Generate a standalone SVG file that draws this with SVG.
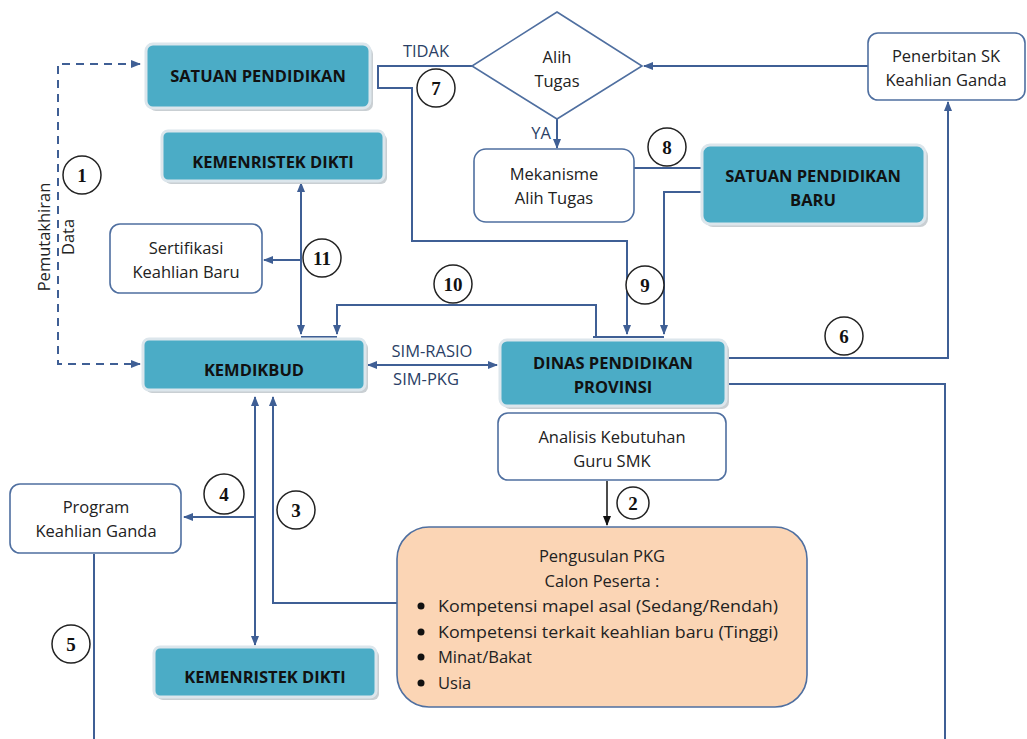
<svg xmlns="http://www.w3.org/2000/svg" width="1027" height="739" viewBox="0 0 1027 739">
<defs>
<style>
.teal{fill:#4BACC6;stroke:#DCE6EC;stroke-width:3}
.sh{fill:#C9CFD3}
.wb{fill:#fff;stroke:#4F6FA0;stroke-width:1.6}
.tb{font-family:"Open Sans","Liberation Sans",sans-serif;font-weight:bold;font-size:16.5px;fill:#111;text-anchor:middle}
.t{font-family:"Open Sans","Liberation Sans",sans-serif;font-size:16.5px;fill:#222;text-anchor:middle}
.tl{font-family:"Open Sans","Liberation Sans",sans-serif;font-size:16.5px;fill:#222}
.lbl{font-family:"Open Sans","Liberation Sans",sans-serif;font-size:16.5px;fill:#2B3F66;text-anchor:middle}
.ln{fill:none;stroke:#3F5F95;stroke-width:2}
.dash{fill:none;stroke:#3F5F95;stroke-width:2;stroke-dasharray:8,6}
.c{fill:#fff;stroke:#222;stroke-width:1.5}
.n{font-family:"Liberation Serif",serif;font-weight:bold;font-size:19px;fill:#111;text-anchor:middle}
</style>
<marker id="a" viewBox="0 0 10 10" refX="9" refY="5" markerWidth="10" markerHeight="10" markerUnits="userSpaceOnUse" orient="auto-start-reverse"><path d="M0,1 L10,5 L0,9 z" fill="#3F5F95"/></marker>
<marker id="ak" viewBox="0 0 10 10" refX="9" refY="5" markerWidth="10" markerHeight="10" markerUnits="userSpaceOnUse" orient="auto-start-reverse"><path d="M0,1 L10,5 L0,9 z" fill="#111"/></marker>
</defs>

<g id="connectors">
<path class="dash" d="M140,64 H58 V364 H140" marker-start="url(#a)" marker-end="url(#a)"/>
<path class="ln" d="M472,66 H378 V88 H412 V241 H627 V334" marker-end="url(#a)"/>
<path class="ln" d="M868,66 H644" marker-end="url(#a)"/>
<path class="ln" d="M557,119 V148" marker-end="url(#a)"/>
<path class="ln" d="M634,168 H702"/>
<path class="ln" d="M702,192 H664 V334" marker-end="url(#a)"/>
<path class="ln" d="M593,337 H664"/>
<path class="ln" d="M596,337 V305 H337 V334" marker-end="url(#a)"/>
<path class="ln" d="M301,337 H337"/>
<path class="ln" d="M301,183 V334" marker-start="url(#a)" marker-end="url(#a)"/>
<path class="ln" d="M301,260 H264" marker-end="url(#a)"/>
<path class="ln" d="M368,365 H497" marker-start="url(#a)" marker-end="url(#a)"/>
<path class="ln" d="M728,358 H948 V102" marker-end="url(#a)"/>
<path class="ln" d="M728,384 H945 V739"/>
<path fill="none" stroke="#111" stroke-width="1.5" d="M607,481 V525" marker-end="url(#ak)"/>
<path class="ln" d="M397,603 H273 V397" marker-end="url(#a)"/>
<path class="ln" d="M255,397 V645" marker-start="url(#a)" marker-end="url(#a)"/>
<path class="ln" d="M255,517 H184" marker-end="url(#a)"/>
<path class="ln" d="M94,554 V739"/>
</g>

<g id="satuan-pendidikan">
<rect class="sh" x="149" y="47" width="224" height="64" rx="7"/>
<rect class="teal" x="146" y="44" width="224" height="64" rx="7"/>
<text class="tb" x="258" y="82">SATUAN PENDIDIKAN</text>
</g>
<g id="kemenristek-top">
<rect class="sh" x="165" y="134" width="222" height="50" rx="6"/>
<rect class="teal" x="162" y="131" width="222" height="50" rx="6"/>
<text class="tb" x="273" y="168">KEMENRISTEK DIKTI</text>
</g>
<g id="sertifikasi">
<rect class="wb" x="110" y="224" width="152" height="69" rx="10"/>
<text class="t" x="186" y="254">Sertifikasi</text>
<text class="t" x="186" y="278">Keahlian Baru</text>
</g>
<g id="kemdikbud">
<rect class="sh" x="146" y="342" width="222" height="51" rx="6"/>
<rect class="teal" x="143" y="339" width="222" height="51" rx="6"/>
<text class="tb" x="254" y="376">KEMDIKBUD</text>
</g>
<g id="dinas">
<rect class="sh" x="503" y="343" width="226" height="66" rx="7"/>
<rect class="teal" x="500" y="340" width="226" height="66" rx="7"/>
<text class="tb" x="613" y="369">DINAS PENDIDIKAN</text>
<text class="tb" x="613" y="393">PROVINSI</text>
</g>
<g id="analisis">
<rect class="wb" x="498" y="413" width="228" height="67" rx="10"/>
<text class="t" x="612" y="443">Analisis Kebutuhan</text>
<text class="t" x="612" y="467">Guru SMK</text>
</g>
<g id="pengusulan">
<rect fill="#FBD5B5" stroke="#4F6FA0" stroke-width="1.6" x="397" y="527" width="410" height="180" rx="32"/>
<text class="t" x="602" y="562">Pengusulan PKG</text>
<text class="t" x="602" y="587">Calon Peserta :</text>
<circle cx="421" cy="606" r="3.5" fill="#111"/>
<circle cx="421" cy="632" r="3.5" fill="#111"/>
<circle cx="421" cy="657" r="3.5" fill="#111"/>
<circle cx="421" cy="683" r="3.5" fill="#111"/>
<text class="tl" x="438" y="612" textLength="340" lengthAdjust="spacingAndGlyphs">Kompetensi mapel asal (Sedang/Rendah)</text>
<text class="tl" x="438" y="638" textLength="340" lengthAdjust="spacingAndGlyphs">Kompetensi terkait keahlian baru (Tinggi)</text>
<text class="tl" x="438" y="663">Minat/Bakat</text>
<text class="tl" x="438" y="689">Usia</text>
</g>
<g id="program">
<rect class="wb" x="10" y="484" width="171" height="69" rx="10"/>
<text class="t" x="96" y="513">Program</text>
<text class="t" x="96" y="537">Keahlian Ganda</text>
</g>
<g id="kemenristek-bottom">
<rect class="sh" x="157" y="650" width="222" height="50" rx="6"/>
<rect class="teal" x="154" y="647" width="222" height="50" rx="6"/>
<text class="tb" x="265" y="683">KEMENRISTEK DIKTI</text>
</g>
<g id="alih-tugas">
<polygon fill="#fff" stroke="#4F6FA0" stroke-width="1.6" points="557,12 642,66 557,119 472,66"/>
<text class="t" x="557" y="63">Alih</text>
<text class="t" x="557" y="87">Tugas</text>
</g>
<g id="mekanisme">
<rect class="wb" x="474" y="149" width="160" height="73" rx="12"/>
<text class="t" x="554" y="180">Mekanisme</text>
<text class="t" x="554" y="204">Alih Tugas</text>
</g>
<g id="satuan-baru">
<rect class="sh" x="705" y="148" width="223" height="79" rx="8"/>
<rect class="teal" x="702" y="145" width="223" height="79" rx="8"/>
<text class="tb" x="813" y="182">SATUAN PENDIDIKAN</text>
<text class="tb" x="813" y="206">BARU</text>
</g>
<g id="penerbitan">
<rect class="wb" x="868" y="33" width="157" height="67" rx="10"/>
<text class="t" x="946" y="62">Penerbitan SK</text>
<text class="t" x="946" y="86">Keahlian Ganda</text>
</g>

<g id="labels">
<text class="lbl" x="426" y="57">TIDAK</text>
<text class="lbl" x="541" y="139">YA</text>
<text class="lbl" x="432" y="357">SIM-RASIO</text>
<text class="lbl" x="426" y="385">SIM-PKG</text>
<g transform="translate(57,237) rotate(-90)">
<text class="t" x="0" y="-7">Pemutakhiran</text>
<text class="t" x="0" y="17">Data</text>
</g>
</g>

<g id="numbers">
<circle class="c" cx="82" cy="175" r="19"/><text class="n" x="82" y="182">1</text>
<circle class="c" cx="633" cy="503" r="16"/><text class="n" x="633" y="510">2</text>
<circle class="c" cx="296" cy="510" r="19"/><text class="n" x="296" y="517">3</text>
<circle class="c" cx="224" cy="494" r="20"/><text class="n" x="224" y="501">4</text>
<circle class="c" cx="71" cy="644" r="19"/><text class="n" x="71" y="651">5</text>
<circle class="c" cx="844" cy="336" r="19"/><text class="n" x="844" y="343">6</text>
<circle class="c" cx="436" cy="88" r="19"/><text class="n" x="436" y="95">7</text>
<circle class="c" cx="667" cy="147" r="19"/><text class="n" x="667" y="154">8</text>
<circle class="c" cx="645" cy="285" r="19"/><text class="n" x="645" y="292">9</text>
<circle class="c" cx="453" cy="284" r="19"/><text class="n" x="453" y="291">10</text>
<circle class="c" cx="322" cy="258" r="19"/><text class="n" x="322" y="265">11</text>
</g>
</svg>
